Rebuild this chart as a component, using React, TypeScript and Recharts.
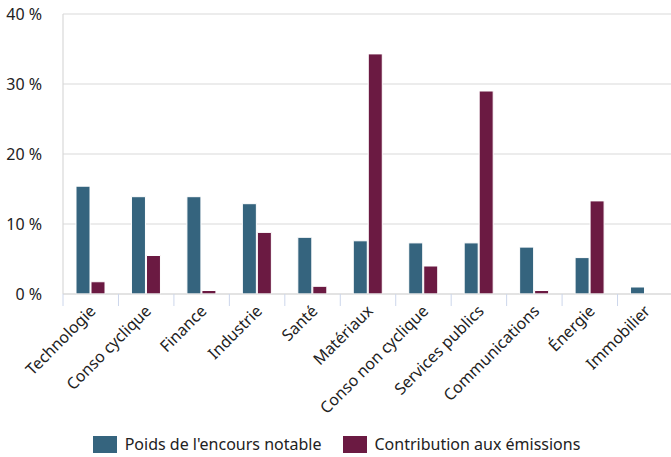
import React from 'react';
import {
  BarChart,
  Bar,
  XAxis,
  YAxis,
  CartesianGrid,
  Legend,
} from 'recharts';

// Sector names on the x axis
const sectors = [
  'Technologie',
  'Conso cyclique',
  'Finance',
  'Industrie',
  'Santé',
  'Matériaux',
  'Conso non cyclique',
  'Services publics',
  'Communications',
  'Énergie',
  'Immobilier',
];

// Weight of the rated outstanding (%)
const poids = [15.4, 13.9, 13.9, 12.9, 8.1, 7.6, 7.3, 7.3, 6.7, 5.2, 1.0];

// Contribution to emissions (%)
const contribution = [1.75, 5.5, 0.5, 8.8, 1.1, 34.3, 4.0, 29.0, 0.5, 13.3, 0];

const yTicks = [0, 10, 20, 30, 40];

const COLORS = {
  poids: '#35647e',
  contribution: '#6b1a42',
};

const SERIES_NAMES = {
  poids: "Poids de l'encours notable",
  contribution: 'Contribution aux émissions',
};

const FONT = '"Noto Sans", "Open Sans", sans-serif';

const CHART_WIDTH = 673;
const CHART_HEIGHT = 457;
const Y_AXIS_WIDTH = 63;

const data = sectors.map((name, i) => ({
  name,
  poids: poids[i],
  contribution: contribution[i],
}));

const bandWidth = (CHART_WIDTH - Y_AXIS_WIDTH) / sectors.length;

// Rotated category label plus a tick mark on the left edge of each band
const SectorTick = (props: any) => {
  const { x, y, payload } = props;
  const left = x - bandWidth / 2;
  return (
    <g>
      <line x1={left} y1={y} x2={left} y2={y + 12} stroke="#ccd6eb" strokeWidth={1} />
      <g transform={`translate(${x + 6},${y + 18})`}>
        <text
          x={0}
          y={0}
          textAnchor="end"
          transform="rotate(-45)"
          fontFamily={FONT}
          fontSize={16}
          fill="#222"
        >
          {payload.value}
        </text>
      </g>
    </g>
  );
};

const LegendContent = () => (
  <div
    style={{
      display: 'flex',
      justifyContent: 'center',
      alignItems: 'center',
      height: 32,
      paddingTop: 6,
      boxSizing: 'border-box',
      fontFamily: FONT,
      fontSize: 16,
      color: '#222',
    }}
  >
    {(['poids', 'contribution'] as const).map((key, i) => (
      <div
        key={key}
        style={{ display: 'flex', alignItems: 'center', marginLeft: i === 0 ? 0 : 21 }}
      >
        <span
          style={{
            display: 'inline-block',
            width: 24,
            height: 17,
            background: COLORS[key],
            marginRight: 8,
          }}
        />
        <span>{SERIES_NAMES[key]}</span>
      </div>
    ))}
  </div>
);

const App: React.FC = () => {
  return (
    <div
      style={{
        position: 'absolute',
        top: 0,
        left: 0,
        width: 671,
        height: 457,
        overflow: 'hidden',
        background: '#fff',
      }}
    >
      <BarChart
        width={CHART_WIDTH}
        height={CHART_HEIGHT}
        data={data}
        margin={{ top: 14, right: 0, left: 0, bottom: 0 }}
        barSize={14}
        barGap={1}
      >
        <CartesianGrid vertical={false} stroke="#d9d9d9" strokeWidth={1.2} />
        <XAxis
          dataKey="name"
          interval={0}
          height={131}
          tickLine={false}
          tickSize={0}
          tickMargin={0}
          axisLine={{ stroke: '#d9d9d9', strokeWidth: 1.2 }}
          tick={<SectorTick />}
        />
        <YAxis
          width={Y_AXIS_WIDTH}
          domain={[0, 40]}
          ticks={yTicks}
          tickFormatter={(v: number) => `${v} %`}
          tickLine={false}
          tickSize={0}
          tickMargin={21}
          axisLine={{ stroke: '#d9d9d9', strokeWidth: 1.2 }}
          tick={{ fontFamily: FONT, fontSize: 16, fill: '#222' }}
        />
        <Legend verticalAlign="bottom" content={<LegendContent />} />
        <Bar
          dataKey="poids"
          name={SERIES_NAMES.poids}
          fill={COLORS.poids}
          stroke="#fff"
          strokeWidth={1}
          isAnimationActive={false}
        />
        <Bar
          dataKey="contribution"
          name={SERIES_NAMES.contribution}
          fill={COLORS.contribution}
          stroke="#fff"
          strokeWidth={1}
          isAnimationActive={false}
        />
      </BarChart>
    </div>
  );
};

export default App;
